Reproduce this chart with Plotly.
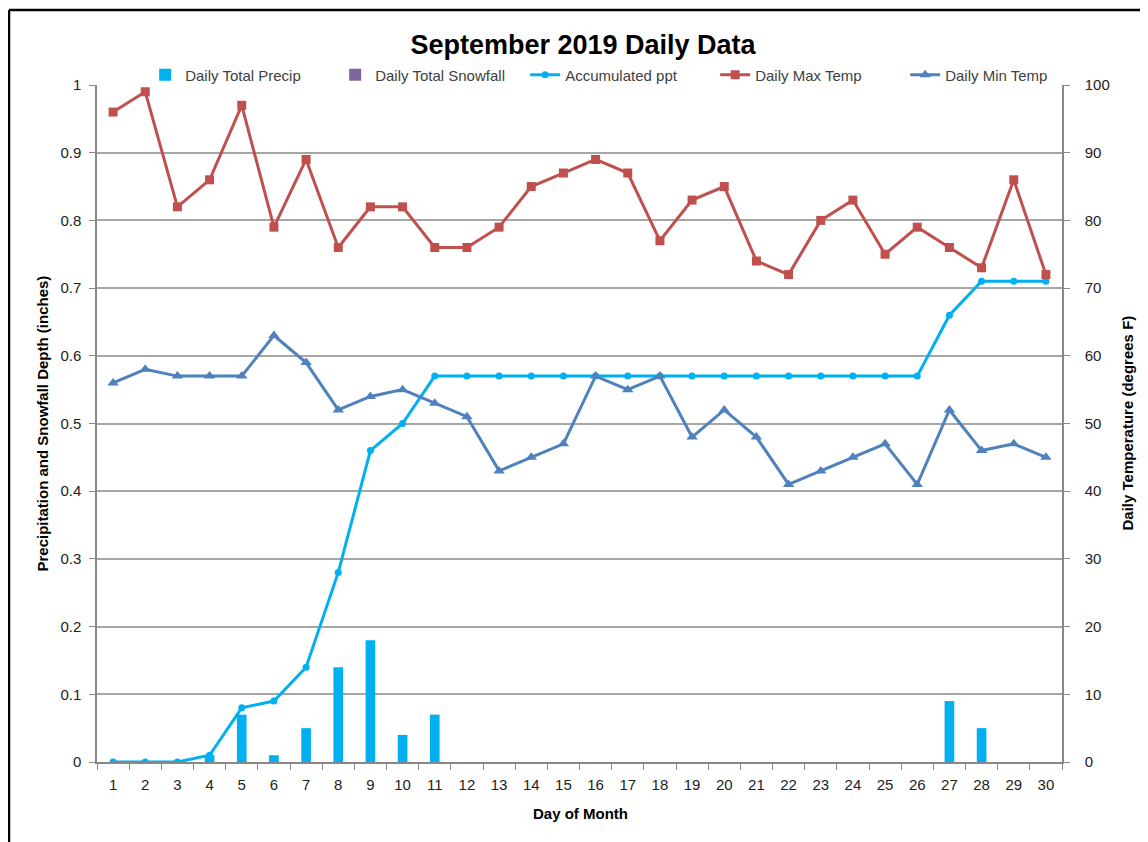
import plotly.graph_objects as go

days = list(range(1, 31))
day_labels = [str(d) for d in days]
daily_precip = [0, 0, 0, 0.01, 0.07, 0.01, 0.05, 0.14, 0.18, 0.04, 0.07, 0, 0, 0, 0,
                0, 0, 0, 0, 0, 0, 0, 0, 0, 0, 0, 0.09, 0.05, 0, 0]
daily_snow = [0] * 30
accum_ppt = [0, 0, 0, 0.01, 0.08, 0.09, 0.14, 0.28, 0.46, 0.50, 0.57, 0.57, 0.57, 0.57, 0.57,
             0.57, 0.57, 0.57, 0.57, 0.57, 0.57, 0.57, 0.57, 0.57, 0.57, 0.57, 0.66, 0.71, 0.71, 0.71]
max_temp = [96, 99, 82, 86, 97, 79, 89, 76, 82, 82, 76, 76, 79, 85, 87,
            89, 87, 77, 83, 85, 74, 72, 80, 83, 75, 79, 76, 73, 86, 72]
min_temp = [56, 58, 57, 57, 57, 63, 59, 52, 54, 55, 53, 51, 43, 45, 47,
            57, 55, 57, 48, 52, 48, 41, 43, 45, 47, 41, 52, 46, 47, 45]

FONT = "Liberation Sans, Arial, sans-serif"
OFF = 8  # page body margin

# target plot-area pixels on screen
PL, PR, PT, PB = 97, 1062, 85, 762
PW, PH = PR - PL, PB - PT


def px(x):
    return (x - PL) / PW


def py(y):
    return (PB - y) / PH


fig = go.Figure()
fig.add_trace(go.Bar(x=days, y=daily_precip, name="Daily Total Precip",
                     marker=dict(color="#00B0F0", line=dict(width=0)), width=0.3))
fig.add_trace(go.Bar(x=days, y=daily_snow, name="Daily Total Snowfall",
                     marker=dict(color="#8064A2", line=dict(width=0)), width=0.3))
fig.add_trace(go.Scatter(x=days, y=accum_ppt, name="Accumulated ppt", mode="lines+markers",
                         line=dict(color="#00B0F0", width=3),
                         marker=dict(symbol="circle", size=7, color="#00B0F0")))
fig.add_trace(go.Scatter(x=days, y=max_temp, name="Daily Max Temp", mode="lines+markers",
                         yaxis="y2", line=dict(color="#C0504D", width=3),
                         marker=dict(symbol="square", size=9, color="#C0504D")))
fig.add_trace(go.Scatter(x=days, y=min_temp, name="Daily Min Temp", mode="lines+markers",
                         yaxis="y2", line=dict(color="#4F81BD", width=3),
                         marker=dict(symbol="triangle-up", size=10, color="#4F81BD")))

W, H = 1148, 842
fig.update_layout(
    width=W, height=H,
    margin=dict(l=PL - OFF, r=W - (PR - OFF), t=PT - OFF, b=H - (PB - OFF)),
    paper_bgcolor="white", plot_bgcolor="white",
    font=dict(family=FONT, size=14, color="#404040"),
    barmode="overlay",
    title=dict(text="<b>September 2019 Daily Data</b>", x=px(583), xref="paper",
               y=1 - (45 - OFF) / H, yref="container", xanchor="center", yanchor="middle",
               font=dict(family=FONT, size=27, color="#000000")),
    legend=dict(orientation="h", x=px(150) - 0.005, xanchor="left", y=py(75), yanchor="middle",
                font=dict(family=FONT, size=15, color="#404040"),
                bgcolor="rgba(0,0,0,0)", itemwidth=30, entrywidth=145, entrywidthmode="pixels"),
    xaxis=dict(range=[0.5, 30.5], tickvals=days, ticktext=day_labels, ticks="",
               showgrid=False, showline=True, linecolor="#888888", linewidth=1.5,
               zeroline=False, tickfont=dict(size=15, color="#222222"), ticklabelstandoff=8,
               minor=dict(tick0=0.5, dtick=1, ticks="outside", ticklen=6,
                          tickcolor="#888888", showgrid=False)),
    yaxis=dict(range=[0, 1], tickvals=[0, 0.1, 0.2, 0.3, 0.4, 0.5, 0.6, 0.7, 0.8, 0.9, 1],
               ticktext=["0", "0.1", "0.2", "0.3", "0.4", "0.5", "0.6", "0.7", "0.8", "0.9", "1"],
               showgrid=True, gridcolor="#A6A6A6", gridwidth=1.5,
               showline=True, linecolor="#888888", linewidth=1.5,
               ticks="outside", ticklen=6, tickcolor="#888888", ticklabelstandoff=5,
               zeroline=False, tickfont=dict(size=15, color="#222222")),
    yaxis2=dict(range=[0, 100], overlaying="y", side="right",
                tickvals=[0, 10, 20, 30, 40, 50, 60, 70, 80, 90, 100],
                showgrid=False, showline=True, linecolor="#888888", linewidth=1.5,
                ticks="outside", ticklen=6, tickcolor="#888888", ticklabelstandoff=12,
                zeroline=False, tickfont=dict(size=15, color="#222222")),
    annotations=[
        dict(text="<b>Precipitation and Snowfall Depth (inches)</b>", x=px(42), y=0.5,
             xref="paper", yref="paper", textangle=-90, showarrow=False,
             xanchor="center", yanchor="middle", font=dict(family=FONT, size=15, color="#000000")),
        dict(text="<b>Daily Temperature (degrees F)</b>", x=px(1127), y=0.5,
             xref="paper", yref="paper", textangle=-90, showarrow=False,
             xanchor="center", yanchor="middle", font=dict(family=FONT, size=15, color="#000000")),
        dict(text="<b>Day of Month</b>", x=px(580), y=py(813),
             xref="paper", yref="paper", showarrow=False,
             xanchor="center", yanchor="middle", font=dict(family=FONT, size=15, color="#000000")),
    ],
    shapes=[
        dict(type="line", xref="paper", yref="paper", x0=px(9), x1=px(1160),
             y0=py(10), y1=py(10), line=dict(color="black", width=2.5)),
        dict(type="line", xref="paper", yref="paper", x0=px(9), x1=px(9),
             y0=py(10), y1=py(860), line=dict(color="black", width=2.5)),
    ],
)

fig.write_html("out.html")
